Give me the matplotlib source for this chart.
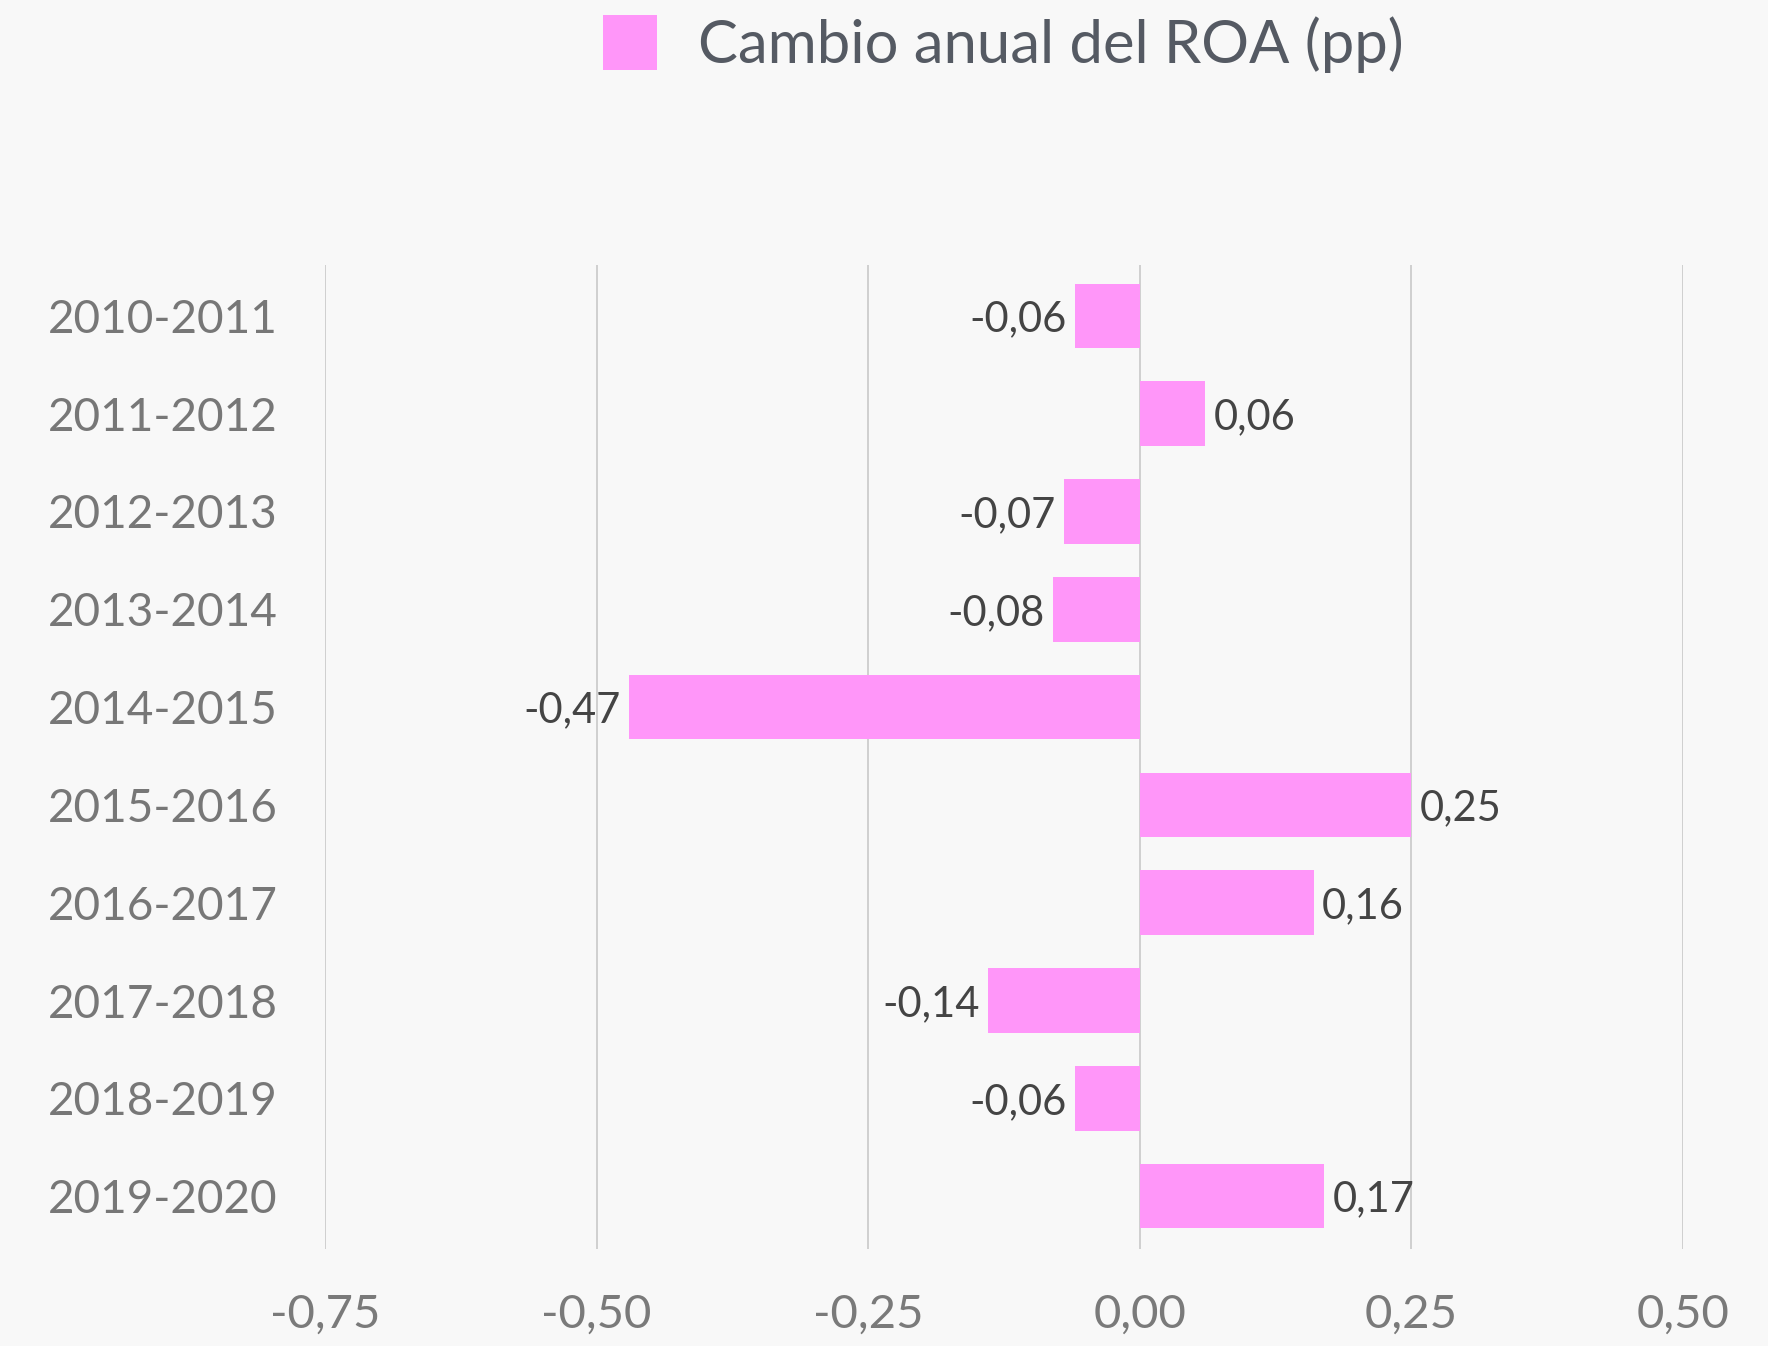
import matplotlib
matplotlib.use("Agg")
import matplotlib.pyplot as plt
from matplotlib.patches import Patch

categories = ["2010-2011", "2011-2012", "2012-2013", "2013-2014", "2014-2015",
              "2015-2016", "2016-2017", "2017-2018", "2018-2019", "2019-2020"]
values = [-0.06, 0.06, -0.07, -0.08, -0.47, 0.25, 0.16, -0.14, -0.06, 0.17]
xticks = [-0.75, -0.50, -0.25, 0.00, 0.25, 0.50]
series_name = "Cambio anual del ROA (pp)"

plt.rcParams['font.family'] = ['Lato', 'DejaVu Sans']
bg = "#f8f8f8"
bar_color = "#ff96f9"

fig = plt.figure(figsize=(17.68, 13.46), dpi=100, facecolor=bg)
ax = fig.add_axes([325/1768, 1-1249/1346, (1683-325)/1768, (1249-265)/1346])
ax.set_facecolor(bg)

y = list(range(len(categories)))
bars = ax.barh(y, values, height=0.66, color=bar_color, zorder=2)
ax.set_xlim(-0.75, 0.5)
ax.set_ylim(9.54, -0.52)

ax.set_xticks(xticks)
ax.set_xticklabels([f"{t:.2f}".replace(".", ",") for t in xticks])
ax.set_yticks(y)
ax.set_yticklabels(categories)
ax.tick_params(axis="x", length=0, pad=32, labelsize=34, labelcolor="#7a7a7a")
ax.tick_params(axis="y", length=0, pad=34, labelsize=33, labelcolor="#777777")
for s in ax.spines.values():
    s.set_visible(False)
ax.grid(axis="x", color="#cccccc", linewidth=1.3, zorder=0)
ax.grid(axis="y", visible=False)

labels = [f"{v:.2f}".replace(".", ",") for v in values]
texts = ax.bar_label(bars, labels=labels, padding=6, fontsize=30, color="#444444")
for t in texts:
    t.set_va("center_baseline")

leg = fig.legend(handles=[Patch(facecolor=bar_color, edgecolor="none")],
                 labels=[series_name], loc="center left",
                 bbox_to_anchor=(573/1768, 1-44/1346), frameon=False,
                 fontsize=43, handlelength=0.9, handleheight=1.05,
                 handletextpad=0.7, borderpad=0)
for t in leg.get_texts():
    t.set_color("#555a63")

fig.savefig("out.png", dpi=100, facecolor=bg)
